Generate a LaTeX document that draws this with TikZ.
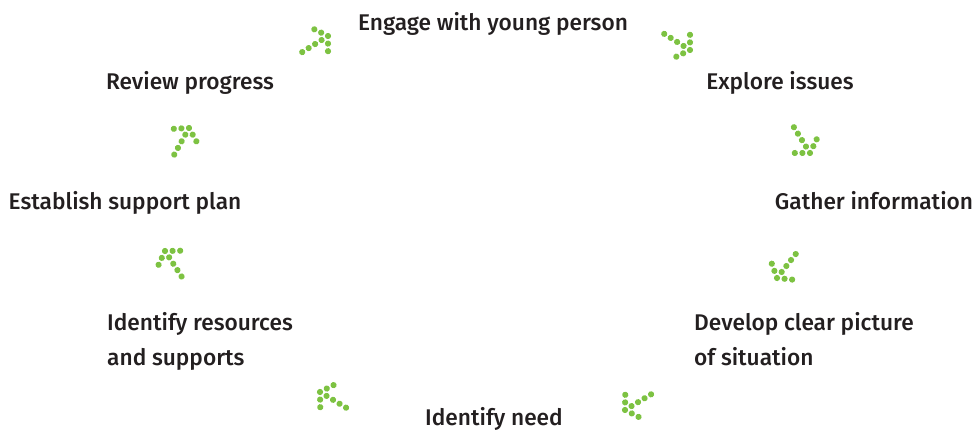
\documentclass[tikz,border=0pt]{standalone}
\usepackage{fontspec}
\setmainfont{Fira Sans Medium}
\usepackage{xcolor}
\definecolor{leaf}{HTML}{7DC242}
\definecolor{ink}{HTML}{231F20}

\begin{document}
\begin{tikzpicture}[
  x=1pt, y=1pt,
  font=\fontsize{22.7}{35}\selectfont,
  lbl/.style = {text=ink, inner sep=0pt},
  two/.style = {lbl, align=left, anchor=base west},
  dot/.style = {fill=leaf},
  dotarr/.pic = {
    \foreach \k in {0,...,4} \fill[dot] (-7.6*\k,0) circle (3.1);
    \foreach \k in {1,2} {
      \fill[dot] (122:7.6*\k) circle (3.1);
      \fill[dot] (-122:7.6*\k) circle (3.1);}
  }
]
\useasboundingbox (0,0) rectangle (980,433);
%% Stages of the cycle
\node[lbl, anchor=base] (eng) at (493,402) {Engage with young person};
\node[lbl, anchor=base] (exp) at (780,343) {Explore issues};
\node[lbl, anchor=base] (gat) at (874,223) {Gather information};
\node[two]              (dev) at (694,67)  {Develop clear picture\\of situation};
\node[lbl, anchor=base] (nee) at (494,7)   {Identify need};
\node[two]              (res) at (107,67)  {Identify resources\\and supports};
\node[lbl, anchor=base] (pla) at (125,223) {Establish support plan};
\node[lbl, anchor=base] (rev) at (190,343) {Review progress};
%% Dotted arrows, tip/angle
\foreach \tip/\ang in {{(690,383)}/-32, {(810,280)}/-58, {(777,155)}/-128,
  {(625,23)}/-149, {(320,41)}/149, {(165,182)}/123, {(189,305)}/61,
  {(328,397)}/32}{
  \pic[rotate=\ang] at \tip {dotarr};}
\end{tikzpicture}
\end{document}
